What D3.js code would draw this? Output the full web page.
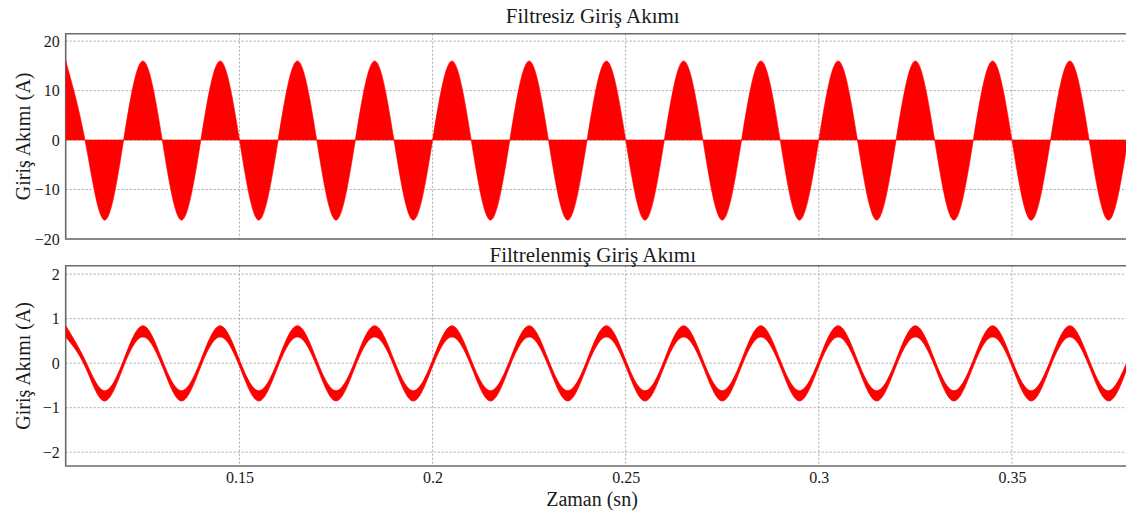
<!DOCTYPE html>
<html>
<head>
<meta charset="utf-8">
<script src="https://cdn.jsdelivr.net/npm/d3@7"></script>
<style>
  html, body { margin: 0; padding: 0; background: #fff; }
  svg { display: block; }
  text { font-family: "Liberation Serif", "DejaVu Serif", serif; fill: #1a1a1a; }
</style>
</head>
<body>
<svg id="chart" width="1126" height="513"></svg>
<script>
// ---------------- data ----------------
const times = [
  0.105,0.110,0.115,0.120,0.125,0.130,0.135,0.140,0.145,0.150,
  0.155,0.160,0.165,0.170,0.175,0.180,0.185,0.190,0.195,0.200,
  0.205,0.210,0.215,0.220,0.225,0.230,0.235,0.240,0.245,0.250,
  0.255,0.260,0.265,0.270,0.275,0.280,0.285,0.290,0.295,0.300,
  0.305,0.310,0.315,0.320,0.325,0.330,0.335,0.340,0.345,0.350,
  0.355,0.360,0.365,0.370,0.375,0.380
];
// Unfiltered input current (A): peaks, zero crossings, troughs
const unfiltered = [
  16,0,-16.2,0, 16,0,-16.2,0, 16,0,-16.2,0, 16,0,-16.2,0,
  16,0,-16.2,0, 16,0,-16.2,0, 16,0,-16.2,0, 16,0,-16.2,0,
  16,0,-16.2,0, 16,0,-16.2,0, 16,0,-16.2,0, 16,0,-16.2,0,
  16,0,-16.2,0, 16,0,-16.2,0
];
// Filtered input current (A): upper and lower edge of the ripple band
const filteredUpper = [
  0.84,0.07,-0.62,0.07, 0.84,0.07,-0.62,0.07, 0.84,0.07,-0.62,0.07, 0.84,0.07,-0.62,0.07,
  0.84,0.07,-0.62,0.07, 0.84,0.07,-0.62,0.07, 0.84,0.07,-0.62,0.07, 0.84,0.07,-0.62,0.07,
  0.84,0.07,-0.62,0.07, 0.84,0.07,-0.62,0.07, 0.84,0.07,-0.62,0.07, 0.84,0.07,-0.62,0.07,
  0.84,0.07,-0.62,0.07, 0.84,0.07,-0.62,0.07
];
const filteredLower = [
  0.59,-0.07,-0.85,-0.07, 0.59,-0.07,-0.85,-0.07, 0.59,-0.07,-0.85,-0.07, 0.59,-0.07,-0.85,-0.07,
  0.59,-0.07,-0.85,-0.07, 0.59,-0.07,-0.85,-0.07, 0.59,-0.07,-0.85,-0.07, 0.59,-0.07,-0.85,-0.07,
  0.59,-0.07,-0.85,-0.07, 0.59,-0.07,-0.85,-0.07, 0.59,-0.07,-0.85,-0.07, 0.59,-0.07,-0.85,-0.07,
  0.59,-0.07,-0.85,-0.07, 0.59,-0.07,-0.85,-0.07
];
const xTickValues = [0.15, 0.2, 0.25, 0.3, 0.35];
const xTickLabels = ["0.15", "0.2", "0.25", "0.3", "0.35"];
const topTickValues = [-20, -10, 0, 10, 20];
const topTickLabels = ["\u221220", "\u221210", "0", "10", "20"];
const botTickValues = [-2, -1, 0, 1, 2];
const botTickLabels = ["\u22122", "\u22121", "0", "1", "2"];
const titleTop = "Filtresiz Giriş Akımı";
const titleBottom = "Filtrelenmiş Giriş Akımı";
const yLabel = "Giriş Akımı (A)";
const xLabel = "Zaman (sn)";

// ---------------- layout ----------------
const svg = d3.select("#chart");
const left = 65.7, right = 1127.8;
const topPanel = { top: 33.7, bottom: 239, domain: [-20, 21.5] };
const botPanel = { top: 265.7, bottom: 466, domain: [-2.31, 2.19] };
const red = "#ff0000";

const x = d3.scaleLinear().domain([0.105, 0.38]).range([left, right]);

function panel(p, ticks, labels, id) {
  const y = d3.scaleLinear().domain(p.domain).range([p.bottom, p.top]);
  const g = svg.append("g");
  // grid
  g.append("g").selectAll("line.h").data(ticks).join("line")
    .attr("x1", left).attr("x2", right)
    .attr("y1", d => y(d)).attr("y2", d => y(d))
    .attr("stroke", "#a8a8a8").attr("stroke-width", 1).attr("stroke-dasharray", "2,2");
  g.append("g").selectAll("line.v").data(xTickValues).join("line")
    .attr("x1", d => x(d)).attr("x2", d => x(d))
    .attr("y1", p.top).attr("y2", p.bottom)
    .attr("stroke", "#a8a8a8").attr("stroke-width", 1).attr("stroke-dasharray", "2,2");
  // y axis labels
  const ax = d3.axisLeft(y).tickValues(ticks).tickSize(0).tickPadding(6)
    .tickFormat((d, i) => labels[i]);
  const axg = g.append("g").attr("transform", `translate(${left},0)`).call(ax);
  axg.select(".domain").remove();
  axg.selectAll("text").style("font-family", '"Liberation Serif", serif')
    .style("font-size", "16px").attr("fill", "#1a1a1a");
  // frame
  g.append("path")
    .attr("d", `M${right},${p.top}H${left}V${p.bottom}H${right}`)
    .attr("fill", "none").attr("stroke", "#6a6a6a").attr("stroke-width", 1.6);
  // clip
  svg.append("clipPath").attr("id", id).append("rect")
    .attr("x", left).attr("y", p.top).attr("width", right - left).attr("height", p.bottom - p.top);
  return { y, g };
}

const P1 = panel(topPanel, topTickValues, topTickLabels, "clipTop");
const P2 = panel(botPanel, botTickValues, botTickLabels, "clipBot");

// top: filled current
const topData = times.map((t, i) => ({ t, v: unfiltered[i] }));
P1.g.append("path")
  .datum(topData)
  .attr("clip-path", "url(#clipTop)")
  .attr("fill", red)
  .attr("stroke", red).attr("stroke-width", 0.6)
  .attr("d", d3.area().curve(d3.curveNatural)
    .x(d => x(d.t)).y0(P1.y(0)).y1(d => P1.y(d.v)));

// bottom: ripple band
const botData = times.map((t, i) => ({ t, hi: filteredUpper[i], lo: filteredLower[i] }));
P2.g.append("path")
  .datum(botData)
  .attr("clip-path", "url(#clipBot)")
  .attr("fill", red)
  .attr("stroke", red).attr("stroke-width", 0.8)
  .attr("d", d3.area().curve(d3.curveNatural)
    .x(d => x(d.t)).y0(d => P2.y(d.lo)).y1(d => P2.y(d.hi)));

// x axis labels (bottom panel only)
const xax = d3.axisBottom(x).tickValues(xTickValues).tickSize(0).tickPadding(6)
  .tickFormat((d, i) => xTickLabels[i]);
const xg = svg.append("g").attr("transform", `translate(0,${botPanel.bottom})`).call(xax);
xg.select(".domain").remove();
xg.selectAll("text").style("font-family", '"Liberation Serif", serif')
  .style("font-size", "16px").attr("fill", "#1a1a1a");

// titles
const cx = (left + right) / 2 - 4;
svg.append("text").attr("x", cx).attr("y", 23).attr("text-anchor", "middle")
  .style("font-size", "21px").text(titleTop);
svg.append("text").attr("x", cx).attr("y", 262).attr("text-anchor", "middle")
  .style("font-size", "21px").text(titleBottom);
svg.append("text").attr("x", 592).attr("y", 506).attr("text-anchor", "middle")
  .style("font-size", "20px").text(xLabel);

// y labels
[[topPanel], [botPanel]].forEach(([p]) => {
  const cy = (p.top + p.bottom) / 2;
  svg.append("text")
    .attr("transform", `translate(30,${cy}) rotate(-90)`)
    .attr("text-anchor", "middle")
    .style("font-size", "20px").text(yLabel);
});
</script>
</body>
</html>
